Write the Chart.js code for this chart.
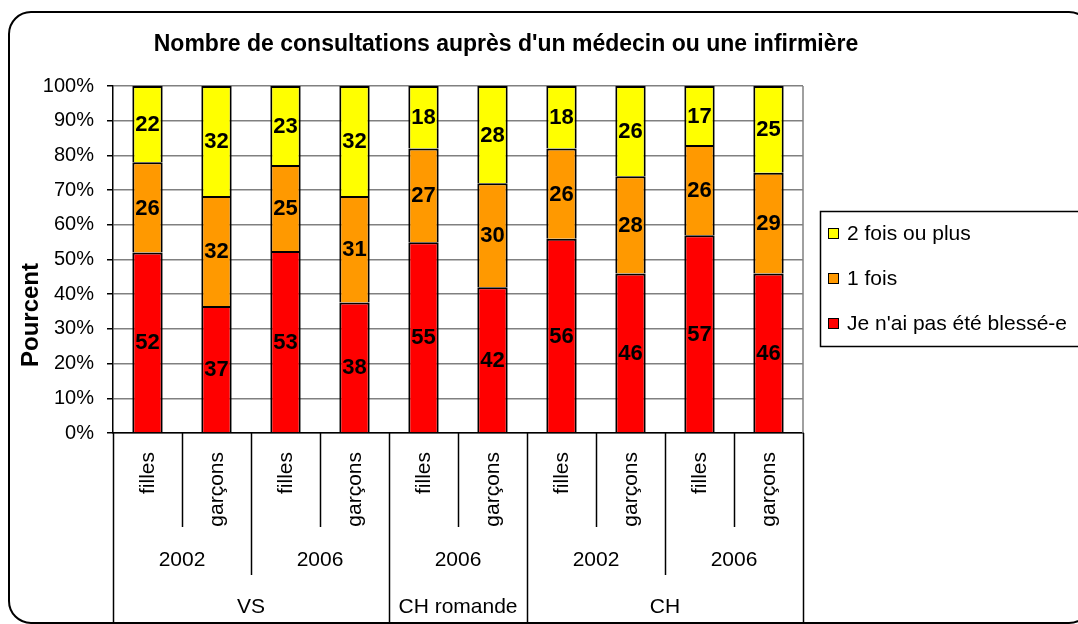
<!DOCTYPE html>
<html>
<head>
<meta charset="utf-8">
<script src="https://cdn.jsdelivr.net/npm/chart.js@4"></script>
<style>
  html, body { margin: 0; padding: 0; background: #fff; }
  canvas { display: block; }
</style>
</head>
<body>
<canvas id="chart" width="1078" height="624"></canvas>
<script>
// ── Données ────────────────────────────────────────────────────────────────

const TITLE = "Nombre de consultations auprès d'un médecin ou une infirmière";
const Y_TITLE = 'Pourcent';

const categories = ['filles', 'garçons', 'filles', 'garçons', 'filles', 'garçons', 'filles', 'garçons', 'filles', 'garçons'];
const years = ['2002', '2006', '2006', '2002', '2006'];
const regions = ['VS', 'CH romande', 'CH'];
const regionSpans = [4, 2, 4];

const seriesLabels = ["Je n'ai pas été blessé-e", '1 fois', '2 fois ou plus'];
const seriesColors = ['#FF0000', '#FF9900', '#FFFF00'];

const pasBlesse = [52, 37, 53, 38, 55, 42, 56, 46, 57, 46];
const uneFois = [26, 32, 25, 31, 27, 30, 26, 28, 26, 29];
const deuxFoisPlus = [22, 32, 23, 32, 18, 28, 18, 26, 17, 25];

const yTicks = [0, 10, 20, 30, 40, 50, 60, 70, 80, 90, 100];

// ── Mise en page ───────────────────────────────────────────────────────────

const FONT = '"Liberation Sans", Arial, sans-serif';
const raw = [pasBlesse, uneFois, deuxFoisPlus];
const totals = categories.map((_, j) => raw.reduce((s, arr) => s + arr[j], 0));
// graphique empilé à 100 %
const pct = raw.map(arr => arr.map((v, j) => v / totals[j] * 100));

// cadre arrondi + titres
const framePlugin = {
  id: 'frame',
  beforeDraw(chart) {
    const { ctx } = chart;
    ctx.save();
    ctx.fillStyle = '#fff';
    ctx.fillRect(0, 0, chart.width, chart.height);
    ctx.beginPath();
    ctx.roundRect(9, 12, 1082, 611, 22);
    ctx.lineWidth = 2;
    ctx.strokeStyle = '#000';
    ctx.stroke();

    ctx.fillStyle = '#000';
    ctx.font = 'bold 23px ' + FONT;
    ctx.textAlign = 'center';
    ctx.textBaseline = 'middle';
    ctx.fillText(TITLE, 506, 45);

    ctx.translate(31, 315);
    ctx.rotate(-Math.PI / 2);
    ctx.font = 'bold 24px ' + FONT;
    ctx.fillText(Y_TITLE, 0, 0);
    ctx.restore();
  },
  beforeDatasetsDraw(chart) {
    const { ctx, chartArea } = chart;
    ctx.save();
    ctx.strokeStyle = '#808080';
    ctx.lineWidth = 1.5;
    ctx.beginPath();
    ctx.moveTo(chartArea.right, chartArea.top);
    ctx.lineTo(chartArea.right, chartArea.bottom);
    ctx.stroke();
    ctx.restore();
  },
};

// valeurs dans les segments
const valuesPlugin = {
  id: 'values',
  afterDatasetsDraw(chart) {
    const { ctx } = chart;
    ctx.save();
    ctx.fillStyle = '#000';
    ctx.font = 'bold 22px ' + FONT;
    ctx.textAlign = 'center';
    ctx.textBaseline = 'middle';
    chart.data.datasets.forEach((ds, i) => {
      chart.getDatasetMeta(i).data.forEach((bar, j) => {
        ctx.fillText(String(raw[i][j]), bar.x, (bar.y + bar.base) / 2 + 1);
      });
    });
    ctx.restore();
  },
};

// axe des catégories à trois niveaux
const multiAxisPlugin = {
  id: 'multiAxis',
  afterDraw(chart) {
    const { ctx, chartArea } = chart;
    const x = chart.scales.x;
    const slot = x.getPixelForValue(1) - x.getPixelForValue(0);
    const edge = j => x.getPixelForValue(j) - slot / 2;
    const top = chartArea.bottom;
    const lvl1 = 527, lvl2 = 575, bottom = 624;

    ctx.save();
    ctx.strokeStyle = '#000';
    ctx.lineWidth = 1.5;
    ctx.fillStyle = '#000';

    // séparateurs
    const regionEdges = [0];
    regionSpans.forEach(s => regionEdges.push(regionEdges[regionEdges.length - 1] + s));
    for (let j = 0; j <= categories.length; j++) {
      let end = lvl1;
      if (j % 2 === 0) end = lvl2;
      if (regionEdges.includes(j)) end = bottom;
      const px = Math.round(edge(j)) + 0.5;
      ctx.beginPath();
      ctx.moveTo(px, top);
      ctx.lineTo(px, end);
      ctx.stroke();
    }

    // niveau 1 : filles / garçons (texte vertical)
    ctx.font = '21px ' + FONT;
    ctx.textAlign = 'right';
    ctx.textBaseline = 'middle';
    categories.forEach((c, j) => {
      ctx.save();
      ctx.translate(x.getPixelForValue(j) + 1, top + 19);
      ctx.rotate(-Math.PI / 2);
      ctx.fillText(c, 0, 0);
      ctx.restore();
    });

    // niveau 2 : années
    ctx.textAlign = 'center';
    years.forEach((yr, g) => {
      ctx.fillText(yr, (edge(g * 2) + edge(g * 2 + 2)) / 2, 560);
    });

    // niveau 3 : régions
    regions.forEach((r, k) => {
      ctx.fillText(r, (edge(regionEdges[k]) + edge(regionEdges[k + 1])) / 2, 607);
    });
    ctx.restore();
  },
};

// légende encadrée à droite
const legendPlugin = {
  id: 'boxLegend',
  afterDraw(chart) {
    const { ctx } = chart;
    ctx.save();
    ctx.strokeStyle = '#000';
    ctx.lineWidth = 1.5;
    ctx.strokeRect(820.5, 211.5, 300, 135);
    ctx.font = '21px ' + FONT;
    ctx.textAlign = 'left';
    ctx.textBaseline = 'middle';
    const rows = [233, 278, 323];
    // ordre inverse : série du haut en premier
    const order = [2, 1, 0];
    order.forEach((i, r) => {
      const ds = chart.data.datasets[i];
      ctx.fillStyle = ds.backgroundColor;
      ctx.fillRect(828, rows[r] - 5, 11, 11);
      ctx.lineWidth = 1;
      ctx.strokeRect(828.5, rows[r] - 4.5, 10, 10);
      ctx.fillStyle = '#000';
      ctx.fillText(ds.label, 847, rows[r] + 1);
    });
    ctx.restore();
  },
};

new Chart(document.getElementById('chart'), {
  type: 'bar',
  plugins: [framePlugin, valuesPlugin, multiAxisPlugin, legendPlugin],
  data: {
    labels: categories,
    datasets: seriesLabels.map((label, i) => ({
      label,
      data: pct[i],
      backgroundColor: seriesColors[i],
      borderColor: '#000',
      borderWidth: 2,
      // pas de bordure basse : évite les traits doublés entre segments
      borderSkipped: 'start',
      categoryPercentage: 1,
      barPercentage: 0.44,
    })),
  },
  options: {
    responsive: false,
    animation: false,
    devicePixelRatio: 1,
    layout: { padding: { left: 0, top: 86, right: 275, bottom: 0 } },
    plugins: {
      legend: { display: false },
      title: { display: false },
      tooltip: { enabled: false },
    },
    scales: {
      x: {
        stacked: true,
        grid: { display: false },
        border: { color: '#000', width: 1.5 },
        ticks: { display: false },
        afterFit(s) { s.height = 191; },
      },
      y: {
        stacked: true,
        min: 0,
        max: 100,
        afterBuildTicks(s) { s.ticks = yTicks.map(v => ({ value: v })); },
        ticks: {
          color: '#000',
          font: { family: FONT, size: 20 },
          padding: 13,
          callback: v => v + '%',
        },
        grid: { color: '#808080', lineWidth: 1.5, tickColor: '#000', tickLength: 6 },
        border: { color: '#000', width: 1.5 },
        afterFit(s) { s.width = 113; },
      },
    },
  },
});
</script>
</body>
</html>
